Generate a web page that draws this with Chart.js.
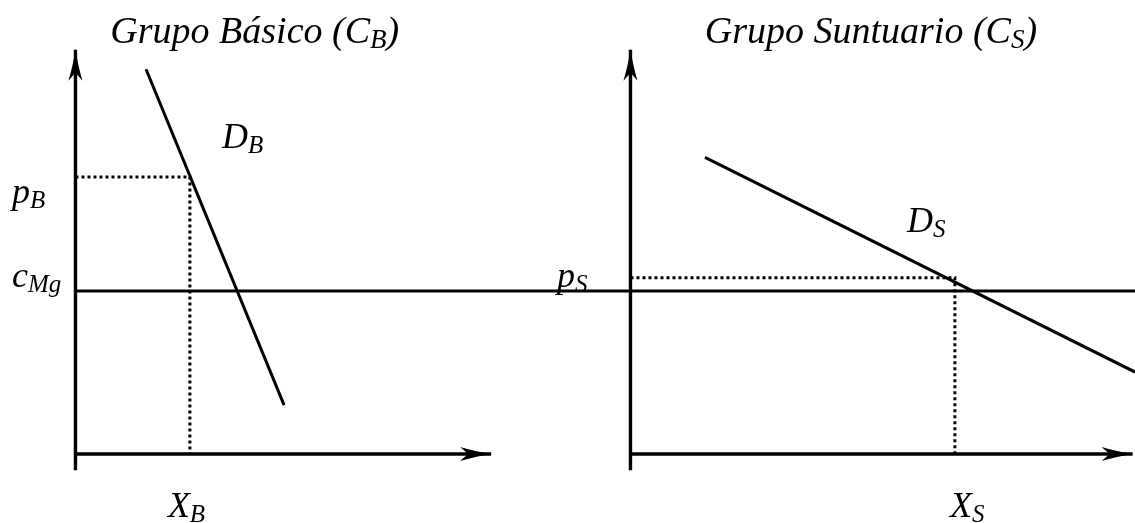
<!DOCTYPE html>
<html>
<head>
<meta charset="utf-8">
<script src="https://cdn.jsdelivr.net/npm/chart.js@4"></script>
<style>
  body { margin: 0; background: #fff; }
  #wrap { position: relative; width: 1135px; height: 523px; }
  canvas { position: absolute; top: 0; }
  #basicoChart { left: 0; }
  #suntuarioChart { left: 540px; }
</style>
</head>
<body>
<div id="wrap">
  <canvas id="basicoChart" width="540" height="523"></canvas>
  <canvas id="suntuarioChart" width="595" height="523"></canvas>
</div>
<script>
// costo marginal, igual en los dos grupos
const costoMarginal = 10;

// Grupo Básico: curva de demanda (cantidad, precio) y equilibrio
const demandaBasicoX = [4.33, 12.8];
const demandaBasicoY = [23.6, 3.0];
const equilibrioBasico = [7.02, 17.0]; // X_B, p_B

// Grupo Suntuario
const demandaSuntuarioX = [4.57, 30.95];
const demandaSuntuarioY = [18.2, 5.03];
const equilibrioSuntuario = [19.9, 10.82]; // X_S, p_S

// largo de los ejes
const ejeYBasico = [-1, 24.8];
const ejeXBasico = [0, 25.5];
const ejeYSuntuario = [-1, 24.8];
const ejeXSuntuario = [0, 30.8];

const limY = [-4.23, 27.85];
const limXBasico = [-4.63, 28.5];
const limXSuntuario = [-5.55, 30.95];

const FUENTE = '"Liberation Serif", "Times New Roman", serif';

// punta de flecha al final de los datasets marcados con flecha: true
const flechas = {
  id: 'flechas',
  afterDatasetsDraw(chart) {
    const ctx = chart.ctx;
    chart.data.datasets.forEach((ds, i) => {
      if (!ds.flecha) return;
      const pts = chart.getDatasetMeta(i).data;
      const a = pts[pts.length - 2], b = pts[pts.length - 1];
      const ang = Math.atan2(b.y - a.y, b.x - a.x);
      ctx.save();
      ctx.fillStyle = '#000';
      ctx.translate(b.x, b.y);
      ctx.rotate(ang);
      ctx.beginPath();
      ctx.moveTo(1, 0);
      ctx.quadraticCurveTo(-14, -2, -31, -7);
      ctx.lineTo(-23, 0);
      ctx.lineTo(-31, 7);
      ctx.quadraticCurveTo(-14, 2, 1, 0);
      ctx.fill();
      ctx.restore();
    });
  }
};

// rótulos en cursiva con subíndices
function crearRotulos(items) {
  return {
    id: 'rotulos',
    afterDraw(chart) {
      const ctx = chart.ctx;
      const sx = chart.scales.x, sy = chart.scales.y;
      ctx.save();
      ctx.fillStyle = '#000';
      ctx.textBaseline = 'alphabetic';
      items.forEach(r => {
        const tam = r.tam || 36;
        const fuenteDe = sub => 'italic ' + (sub ? Math.round(tam * 0.7) : tam) + 'px ' + FUENTE;
        let ancho = 0;
        r.partes.forEach(([t, sub]) => { ctx.font = fuenteDe(sub); ancho += ctx.measureText(t).width; });
        let px = sx.getPixelForValue(r.x);
        const py = sy.getPixelForValue(r.y);
        if (r.centro) px -= ancho / 2;
        r.partes.forEach(([t, sub]) => {
          ctx.font = fuenteDe(sub);
          ctx.fillText(t, px, py + (sub ? 5 : 0));
          px += ctx.measureText(t).width;
        });
      });
      ctx.restore();
    }
  };
}

const linea = (xs, ys, extra) => Object.assign({
  data: xs.map((x, i) => ({ x, y: ys[i] })),
  showLine: true,
  pointRadius: 0,
  borderColor: '#000',
  borderWidth: 3,
  borderCapStyle: 'butt',
  tension: 0
}, extra);

function opciones(limX) {
  return {
    responsive: false,
    animation: false,
    layout: { padding: 0 },
    plugins: { legend: { display: false }, tooltip: { enabled: false } },
    scales: {
      x: { type: 'linear', display: false, min: limX[0], max: limX[1] },
      y: { type: 'linear', display: false, min: limY[0], max: limY[1] }
    }
  };
}

// Grupo Básico
new Chart(document.getElementById('basicoChart'), {
  type: 'scatter',
  data: {
    datasets: [
      linea([0, 0], ejeYBasico, { flecha: true, borderWidth: 3.4 }),
      linea(ejeXBasico, [0, 0], { flecha: true, borderWidth: 3.4 }),
      linea([0, limXBasico[1]], [costoMarginal, costoMarginal]),
      linea(demandaBasicoX, demandaBasicoY),
      linea([0, equilibrioBasico[0], equilibrioBasico[0]],
            [equilibrioBasico[1], equilibrioBasico[1], 0],
            { borderDash: [3, 3], borderWidth: 3 })
    ]
  },
  options: opciones(limXBasico),
  plugins: [flechas, crearRotulos([
    { partes: [['Grupo Básico (C'], ['B', true], [')']], x: 11.0, y: 25.2, centro: true, tam: 38 },
    { partes: [['D'], ['B', true]], x: 8.99, y: 18.77 },
    { partes: [['p'], ['B', true]], x: -3.9, y: 15.4 },
    { partes: [['c'], ['Mg', true]], x: -3.9, y: 10.25 },
    { partes: [['X'], ['B', true]], x: 5.67, y: -3.87 }
  ])]
});

// Grupo Suntuario
new Chart(document.getElementById('suntuarioChart'), {
  type: 'scatter',
  data: {
    datasets: [
      linea([0, 0], ejeYSuntuario, { flecha: true, borderWidth: 3.4 }),
      linea(ejeXSuntuario, [0, 0], { flecha: true, borderWidth: 3.4 }),
      linea(limXSuntuario, [costoMarginal, costoMarginal]),
      linea(demandaSuntuarioX, demandaSuntuarioY),
      linea([0, equilibrioSuntuario[0], equilibrioSuntuario[0]],
            [equilibrioSuntuario[1], equilibrioSuntuario[1], 0],
            { borderDash: [3, 3], borderWidth: 3 })
    ]
  },
  options: opciones(limXSuntuario),
  plugins: [flechas, crearRotulos([
    { partes: [['Grupo Suntuario (C'], ['S', true], [')']], x: 14.75, y: 25.2, centro: true, tam: 38 },
    { partes: [['D'], ['S', true]], x: 16.96, y: 13.62 },
    { partes: [['p'], ['S', true]], x: -4.51, y: 10.25 },
    { partes: [['X'], ['S', true]], x: 19.6, y: -3.87 }
  ])]
});
</script>
</body>
</html>
